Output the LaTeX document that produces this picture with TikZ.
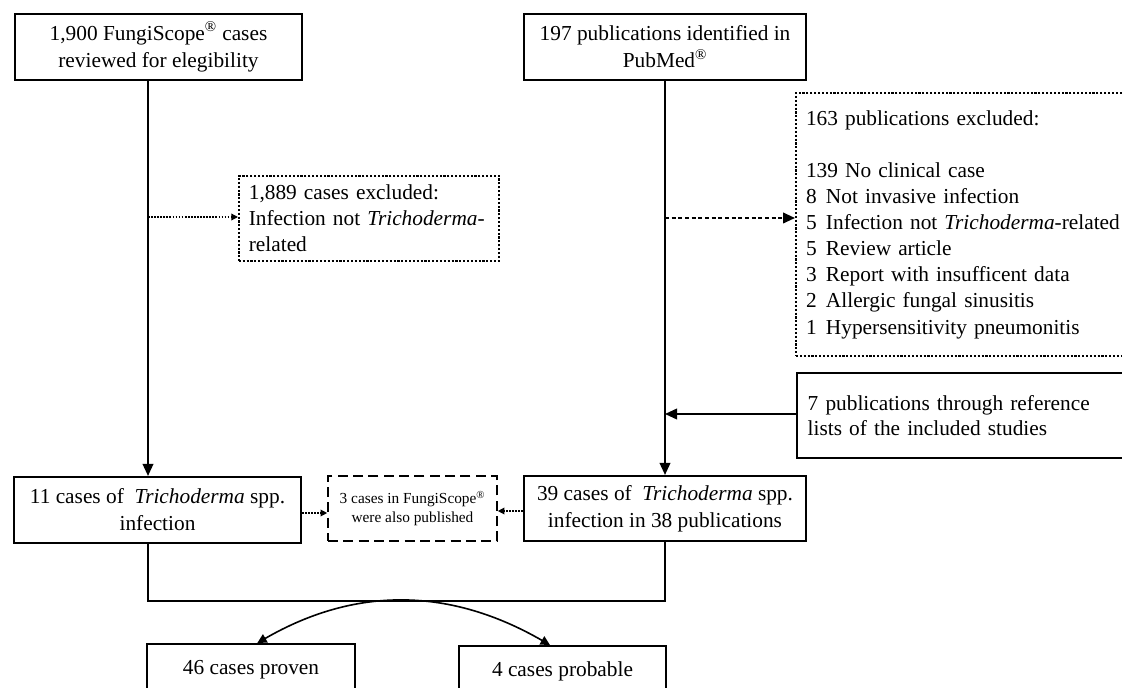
\documentclass[tikz,border=0pt]{standalone}
\usepackage{fontspec}
\setmainfont{Liberation Serif}
\usetikzlibrary{arrows.meta,calc}
\begin{document}
\begin{tikzpicture}[x=0.75pt,y=-0.75pt,
  box/.style={draw, line width=1.6pt, align=center, inner sep=0pt, font=\fontsize{16}{20.25}\selectfont},
  exbox/.style={draw, line width=1.3pt, dash pattern=on 1.6pt off 1.3pt, align=left, anchor=north west, inner xsep=7.5pt, inner ysep=0pt, font=\fontsize{16}{19.6}\selectfont},
  refbox/.style={draw, line width=1.6pt, align=left, anchor=north west, inner xsep=8pt, inner ysep=0pt, font=\fontsize{16}{19}\selectfont},
  dupbox/.style={draw, line width=1.2pt, dash pattern=on 7.5pt off 4pt, align=center, inner sep=0pt, font=\fontsize{11.5}{14.2}\selectfont},
  outbox/.style={draw, line width=1.4pt, anchor=north, inner xsep=0pt, inner ysep=8pt, text height=15pt, text depth=14pt, font=\fontsize{16}{19}\selectfont},
  arr/.style={-{Triangle[length=9pt,width=8pt]}, line width=1.2pt},
  dotarr/.style={-{Triangle[length=5pt,width=5pt]}, line width=0.9pt, dash pattern=on 1.3pt off 1pt},
  dasharr/.style={-{Triangle[length=9pt,width=8pt]}, line width=1.4pt, dash pattern=on 3pt off 2pt},
  curvearr/.style={{Triangle[length=7pt,width=7pt]}-{Triangle[length=7pt,width=7pt]}, line width=1.2pt},
  joinline/.style={line width=1.1pt}
]
\clip (0,0) rectangle (1122,688);
\fill[white] (0,0) rectangle (1122,688);

% top boxes
\node[box, minimum width=215.25pt, minimum height=49.5pt] (b1) at (158.5,47)
  {1,900 FungiScope\textsuperscript{\textregistered} cases\\reviewed for elegibility};
\node[box, minimum width=211.5pt, minimum height=49.5pt] (b2) at (665,47)
  {197 publications identified in\\PubMed\textsuperscript{\textregistered}};

% exclusion boxes
\node[exbox, text width=180pt, minimum height=63.75pt] (ex1) at (238,175)
  {1,889 cases excluded:\\Infection not \textit{Trichoderma}-\\related};
\node[exbox, line width=1.5pt, text width=255pt, minimum height=197.25pt] (ex2) at (795,92)
  {163 publications excluded:\\[19.6pt]
   139 No clinical case\\
   \makebox[15pt][l]{8}Not invasive infection\\
   \makebox[15pt][l]{5}Infection not \textit{Trichoderma}-related\\
   \makebox[15pt][l]{5}Review article\\
   \makebox[15pt][l]{3}Report with insufficent data\\
   \makebox[15pt][l]{2}Allergic fungal sinusitis\\
   \makebox[15pt][l]{1}Hypersensitivity pneumonitis};
\node[refbox, text width=255pt, minimum height=63.75pt] (ref) at (796,372)
  {7 publications through reference\\lists of the included studies};

% case boxes
\node[box, minimum width=215.25pt, minimum height=49.5pt] (c1) at (157.5,510)
  {11 cases of \ \textit{Trichoderma} spp.\\infection};
\node[box, minimum width=211.5pt, minimum height=48.75pt] (c2) at (665,508.5)
  {39 cases of \ \textit{Trichoderma} spp.\\infection in 38 publications};
\node[dupbox, minimum width=126.75pt, minimum height=48.75pt] (dup) at (412.5,508.5)
  {3 cases in FungiScope\textsuperscript{\textregistered}\\were also published};

% outcome boxes
\node[outbox, minimum width=156pt] (p46) at (251,643) {46 cases proven};
\node[outbox, minimum width=155.25pt] (p4) at (562.5,645) {4 cases probable};

% coordinates on the flow lines
\coordinate (jl) at (148,601);
\coordinate (jr) at (665,601);
\coordinate (e1) at (148,217);
\coordinate (e2) at (665,218);
\coordinate (e3) at (665,414);

% main flow
\draw[arr] (b1.south -| jl) -- (c1.north -| jl);
\draw[arr] (b2) -- (c2);
\draw[dotarr] (e1) -- (e1 -| ex1.west);
\draw[dasharr] (e2) -- (e2 -| ex2.west);
\draw[arr] (ref.west |- e3) -- (e3);
\draw[dotarr] (c1.east |- 0,513) -- (dup.west |- 0,513);
\draw[dotarr] (c2.west |- 0,511) -- (dup.east |- 0,511);

% join
\draw[joinline] (c1.south -| jl) -- (jl) -- (jr) -- (c2.south);

% split curve
\draw[curvearr] ($(p46.north west)!0.53!(p46.north east)$) to[out=30,in=150] ($(p4.north west)!0.44!(p4.north east)$);
\end{tikzpicture}
\end{document}
